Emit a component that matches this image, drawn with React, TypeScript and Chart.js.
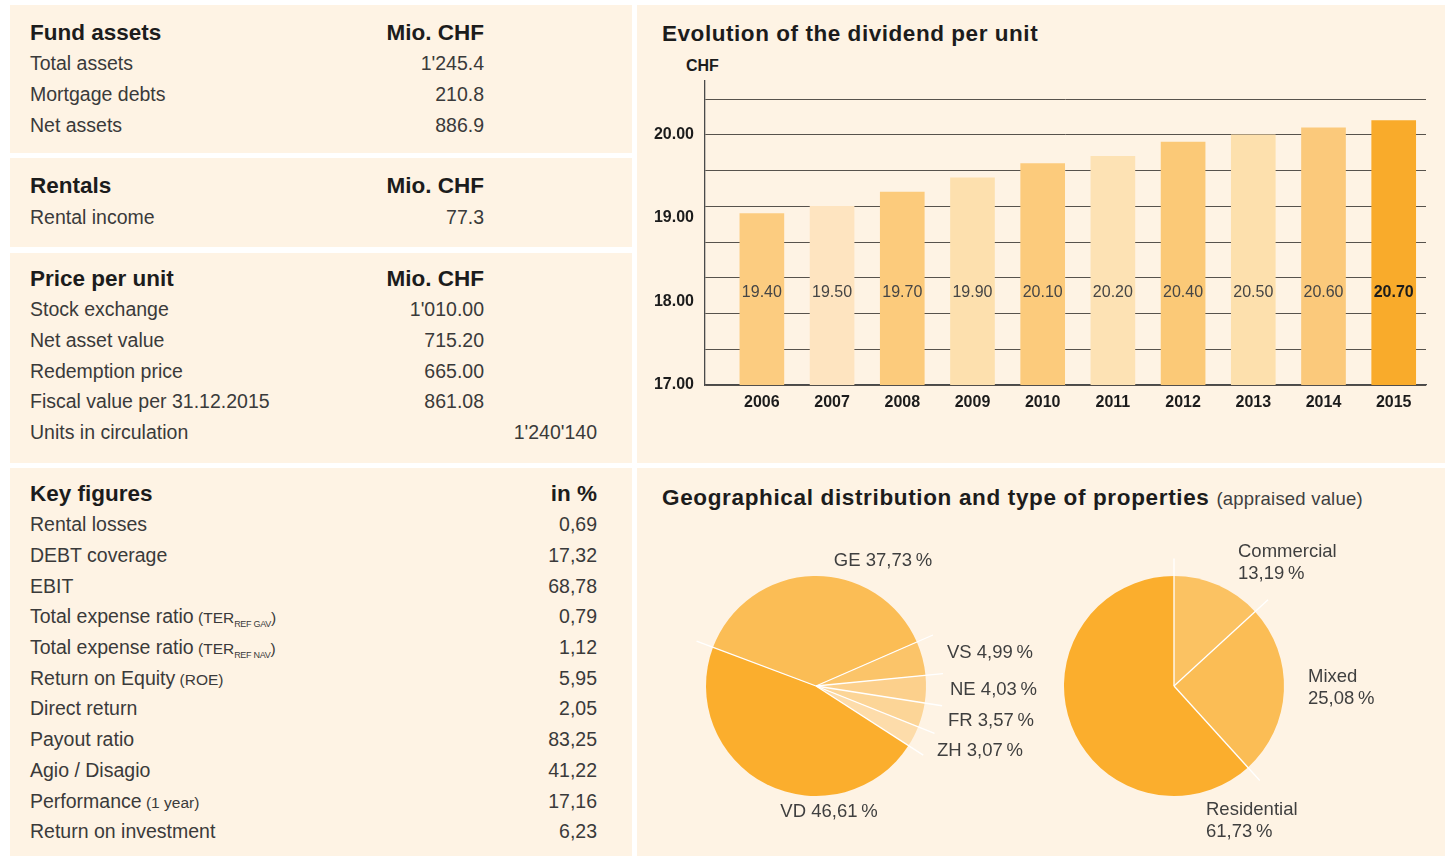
import React, { useEffect, useRef } from "react";
import { Chart, registerables } from "chart.js";
Chart.register(...registerables);

// ---------- DATA ----------
const fundAssetsLabels = ["Total assets", "Mortgage debts", "Net assets"];
const fundAssetsValues = ["1'245.4", "210.8", "886.9"];

const rentalsLabels = ["Rental income"];
const rentalsValues = ["77.3"];

const priceLabels = ["Stock exchange", "Net asset value", "Redemption price", "Fiscal value per 31.12.2015", "Units in circulation"];
const priceValues = ["1'010.00", "715.20", "665.00", "861.08", "1'240'140"];

const keyLabels = ["Rental losses", "DEBT coverage", "EBIT", "Total expense ratio", "Total expense ratio", "Return on Equity", "Direct return", "Payout ratio", "Agio / Disagio", "Performance", "Return on investment"];
const keyNotes = ["", "", "", "(TER|REF GAV|)", "(TER|REF NAV|)", "(ROE)", "", "", "", "(1 year)", ""];
const keyValues = ["0,69", "17,32", "68,78", "0,79", "1,12", "5,95", "2,05", "83,25", "41,22", "17,16", "6,23"];

const years = [2006, 2007, 2008, 2009, 2010, 2011, 2012, 2013, 2014, 2015];
const dividends = [19.4, 19.5, 19.7, 19.9, 20.1, 20.2, 20.4, 20.5, 20.6, 20.7];
const dividendLabels = ["19.40", "19.50", "19.70", "19.90", "20.10", "20.20", "20.40", "20.50", "20.60", "20.70"];

const geoLabels = ["GE", "VS", "NE", "FR", "ZH", "VD"];
const geoValues = [37.73, 4.99, 4.03, 3.57, 3.07, 46.61];

const typeLabels = ["Commercial", "Mixed", "Residential"];
const typeValues = [13.19, 25.08, 61.73];

// ---------- STYLE ----------
const FONT = '"Liberation Sans", Arial, sans-serif';
const PANEL_BG = "#fef3e4";
const TEXT = "#3a3a3a";
const TITLE = "#1c1c1c";
const barColors = ["#fccc80", "#fee4c0", "#fccb7c", "#fde0ae", "#fccb7c", "#fde2b4", "#fbc977", "#fde0ad", "#fbc97b", "#f9ab2b"];
const geoColors = ["#fbbd55", "#fbc469", "#fcd08c", "#fcd597", "#fddcaa", "#fbae2d"];
const typeColors = ["#fbc262", "#fbbd55", "#fbae2d"];

const fmtPct = (v: number) => v.toFixed(2).replace(".", ",") + "\u202F%";

// ---------- TABLE PANELS ----------
type PanelProps = { left: number; top: number; width: number; height: number; children?: React.ReactNode };
const Panel = ({ left, top, width, height, children }: PanelProps) => (
  <div style={{ position: "absolute", left, top, width, height, background: PANEL_BG }}>{children}</div>
);

function Note({ note }: { note: string }) {
  if (!note) return null;
  const parts = note.split("|");
  return (
    <span style={{ fontSize: 15.5 }}>
      {" "}
      {parts[0]}
      {parts.length > 1 && <span style={{ fontSize: 9, verticalAlign: -4, letterSpacing: -0.3 }}>{parts[1]}</span>}
      {parts.length > 2 && parts[2]}
    </span>
  );
}

type BlockProps = {
  title: string;
  unit: string;
  unitRight: number;
  labels: string[];
  values: string[];
  rights: number[];
  notes?: string[];
  firstCenter: number;
  rowH: number;
};
function Block({ title, unit, unitRight, labels, values, rights, notes, firstCenter, rowH }: BlockProps) {
  const h = 30;
  const rows = [
    <div key="t" style={{ position: "absolute", left: 20, right: 0, top: firstCenter - h / 2, height: h, lineHeight: h + "px", fontWeight: "bold", fontSize: 22.5, color: TITLE }}>
      <span>{title}</span>
      <span style={{ position: "absolute", right: unitRight }}>{unit}</span>
    </div>,
  ];
  labels.forEach((l, i) => {
    const c = firstCenter + (i + 1) * rowH;
    rows.push(
      <div key={i} style={{ position: "absolute", left: 20, right: 0, top: c - h / 2, height: h, lineHeight: h + "px", fontSize: 19.5, color: TEXT }}>
        <span>
          {l}
          {notes && <Note note={notes[i]} />}
        </span>
        <span style={{ position: "absolute", right: rights[i] }}>{values[i]}</span>
      </div>
    );
  });
  return <>{rows}</>;
}

// ---------- BAR CHART ----------
const LABEL_LEVEL = 18.3;

function DividendChart() {
  const ref = useRef<HTMLCanvasElement>(null);
  useEffect(() => {
    if (!ref.current) return;
    const labelPlugin = {
      id: "barLabels",
      afterDatasetsDraw(chart: any) {
        const { ctx } = chart;
        const meta = chart.getDatasetMeta(0);
        const yPix = chart.scales.y.getPixelForValue(LABEL_LEVEL);
        ctx.save();
        ctx.textAlign = "center";
        ctx.textBaseline = "middle";
        meta.data.forEach((bar: any, i: number) => {
          const last = i === meta.data.length - 1;
          ctx.font = `${last ? "bold " : ""}16px ${FONT}`;
          ctx.fillStyle = last ? "#1c1c1c" : "#454545";
          ctx.fillText(dividendLabels[i], bar.x, yPix);
        });
        ctx.restore();
      },
    };
    const chart = new Chart(ref.current, {
      type: "bar",
      data: {
        datasets: [
          {
            data: years.map((y, i) => ({ x: y, y: dividends[i] })),
            backgroundColor: barColors,
            barThickness: 44,
            borderWidth: 0,
            xAxisID: "x",
            yAxisID: "y",
          },
        ],
      },
      options: {
        animation: false,
        responsive: false,
        maintainAspectRatio: false,
        devicePixelRatio: 1,
        layout: { padding: { top: 18, right: 19, left: 0, bottom: 0 } },
        plugins: { legend: { display: false }, tooltip: { enabled: false }, title: { display: false } },
        scales: {
          x: {
            type: "linear",
            offset: false,
            min: 2005.19,
            max: 2015.46,
            grid: { display: false, drawTicks: false, offset: false },
            border: { display: true, color: "#4a4a4a", width: 1.3 },
            ticks: {
              stepSize: 1,
              includeBounds: false,
              autoSkip: false,
              maxRotation: 0,
              callback: (v: any) => String(v),
              font: { family: FONT, size: 16, weight: "bold" },
              color: "#1c1c1c",
              padding: 8,
            },
            afterFit: (s: any) => {
              s.height = 35;
            },
          },
          y: {
            type: "linear",
            position: "left",
            weight: 0,
            min: 17,
            max: 21.26,
            grid: { color: "#57524c", lineWidth: 1, drawTicks: false },
            border: { display: true, color: "#4a4a4a", width: 1.3 },
            ticks: { display: false, stepSize: 0.5, includeBounds: false },
            afterFit: (s: any) => {
              s.width = 0;
            },
          },
          y2: {
            type: "linear",
            position: "left",
            weight: 1,
            min: 17,
            max: 20.64,
            grid: { display: false, drawTicks: false },
            border: { display: false },
            ticks: {
              stepSize: 1,
              includeBounds: false,
              callback: (v: any) => Number(v).toFixed(2),
              font: { family: FONT, size: 16, weight: "bold" },
              color: "#1c1c1c",
              padding: 11,
            },
            afterFit: (s: any) => {
              s.width = 68;
            },
          },
        },
      } as any,
      plugins: [labelPlugin],
    });
    return () => chart.destroy();
  }, []);
  return <canvas ref={ref} width={808} height={360} style={{ position: "absolute", left: 637, top: 60, width: 808, height: 360 }} />;
}

// ---------- PIE CHARTS ----------
type Anchor = { dx: number; dy: number; align: "left" | "center" };
type PieProps = {
  labels: string[];
  values: number[];
  colors: string[];
  rotation: number;
  left: number;
  top: number;
  width: number;
  height: number;
  padding: { left: number; right: number; top: number; bottom: number };
  anchors: Anchor[];
  twoLine: boolean;
};

function PieChart({ labels, values, colors, rotation, left, top, width, height, padding, anchors, twoLine }: PieProps) {
  const ref = useRef<HTMLCanvasElement>(null);
  useEffect(() => {
    if (!ref.current) return;
    const piePlugin = {
      id: "pieDecor",
      afterDatasetsDraw(chart: any) {
        const { ctx } = chart;
        const meta = chart.getDatasetMeta(0);
        ctx.save();
        ctx.strokeStyle = "#ffffff";
        ctx.lineWidth = 1.3;
        meta.data.forEach((arc: any) => {
          const { x, y, startAngle, outerRadius } = arc.getProps(["x", "y", "startAngle", "outerRadius"], true);
          ctx.beginPath();
          ctx.moveTo(x, y);
          ctx.lineTo(x + Math.cos(startAngle) * outerRadius * 1.16, y + Math.sin(startAngle) * outerRadius * 1.16);
          ctx.stroke();
        });
        ctx.font = `18.5px ${FONT}`;
        ctx.fillStyle = "#3f3f3f";
        ctx.textBaseline = "middle";
        meta.data.forEach((arc: any, i: number) => {
          const { x, y } = arc.getProps(["x", "y"], true);
          const a = anchors[i];
          ctx.textAlign = a.align;
          if (twoLine) {
            ctx.fillText(labels[i], x + a.dx, y + a.dy);
            ctx.fillText(fmtPct(values[i]), x + a.dx, y + a.dy + 22);
          } else {
            ctx.fillText(`${labels[i]} ${fmtPct(values[i])}`, x + a.dx, y + a.dy);
          }
        });
        ctx.restore();
      },
    };
    const chart = new Chart(ref.current, {
      type: "pie",
      data: { labels, datasets: [{ data: values, backgroundColor: colors, borderWidth: 0 }] },
      options: {
        animation: false,
        responsive: false,
        maintainAspectRatio: false,
        devicePixelRatio: 1,
        rotation,
        layout: { padding },
        plugins: { legend: { display: false }, tooltip: { enabled: false } },
      } as any,
      plugins: [piePlugin],
    });
    return () => chart.destroy();
  }, []);
  return <canvas ref={ref} width={width} height={height} style={{ position: "absolute", left, top, width, height }} />;
}

const geoAnchors: Anchor[] = [
  { dx: 67, dy: -125, align: "center" },
  { dx: 131, dy: -33, align: "left" },
  { dx: 134, dy: 4, align: "left" },
  { dx: 132, dy: 35, align: "left" },
  { dx: 121, dy: 65, align: "left" },
  { dx: 13, dy: 126, align: "center" },
];
const typeAnchors: Anchor[] = [
  { dx: 64, dy: -134, align: "left" },
  { dx: 134, dy: -9, align: "left" },
  { dx: 32, dy: 124, align: "left" },
];

// ---------- APP ----------
export default function App() {
  const rowH = 30.7;
  return (
    <div style={{ position: "absolute", left: 0, top: 0, width: 1449, height: 856, background: "#ffffff", overflow: "hidden", fontFamily: FONT }}>
      <Panel left={10} top={5} width={622} height={148}>
        <Block title="Fund assets" unit="Mio. CHF" unitRight={148} labels={fundAssetsLabels} values={fundAssetsValues} rights={[148, 148, 148]} firstCenter={27.7} rowH={30.6} />
      </Panel>
      <Panel left={10} top={158} width={622} height={89}>
        <Block title="Rentals" unit="Mio. CHF" unitRight={148} labels={rentalsLabels} values={rentalsValues} rights={[148]} firstCenter={28.3} rowH={30.7} />
      </Panel>
      <Panel left={10} top={253} width={622} height={210}>
        <Block title="Price per unit" unit="Mio. CHF" unitRight={148} labels={priceLabels} values={priceValues} rights={[148, 148, 148, 148, 35]} firstCenter={25.6} rowH={rowH} />
      </Panel>
      <Panel left={10} top={468} width={622} height={388}>
        <Block title="Key figures" unit="in %" unitRight={35} labels={keyLabels} values={keyValues} notes={keyNotes} rights={keyValues.map(() => 35)} firstCenter={25.5} rowH={rowH} />
      </Panel>

      <Panel left={637} top={5} width={808} height={458}>
        <div style={{ position: "absolute", left: 25, top: 14, lineHeight: "30px", fontSize: 22.5, letterSpacing: 0.55, fontWeight: "bold", color: TITLE, whiteSpace: "nowrap" }}>Evolution of the dividend per unit</div>
        <div style={{ position: "absolute", left: 49, top: 51, lineHeight: "20px", fontSize: 16, fontWeight: "bold", color: TITLE }}>CHF</div>
      </Panel>
      <Panel left={637} top={468} width={808} height={388}>
        <div style={{ position: "absolute", left: 25, top: 15, lineHeight: "30px", fontSize: 22.5, letterSpacing: 0.65, fontWeight: "bold", color: TITLE, whiteSpace: "nowrap" }}>
          Geographical distribution and type of properties{" "}
          <span style={{ fontSize: 18.5, letterSpacing: 0.2, fontWeight: "normal", color: "#3f3f3f" }}>(appraised value)</span>
        </div>
      </Panel>

      <DividendChart />
      <PieChart
        labels={geoLabels}
        values={geoValues}
        colors={geoColors}
        rotation={-69.4}
        left={660}
        top={530}
        width={390}
        height={320}
        padding={{ left: 46, right: 124, top: 46, bottom: 54 }}
        anchors={geoAnchors}
        twoLine={false}
      />
      <PieChart
        labels={typeLabels}
        values={typeValues}
        colors={typeColors}
        rotation={0}
        left={1050}
        top={530}
        width={395}
        height={320}
        padding={{ left: 14, right: 161, top: 46, bottom: 54 }}
        anchors={typeAnchors}
        twoLine={true}
      />
    </div>
  );
}
